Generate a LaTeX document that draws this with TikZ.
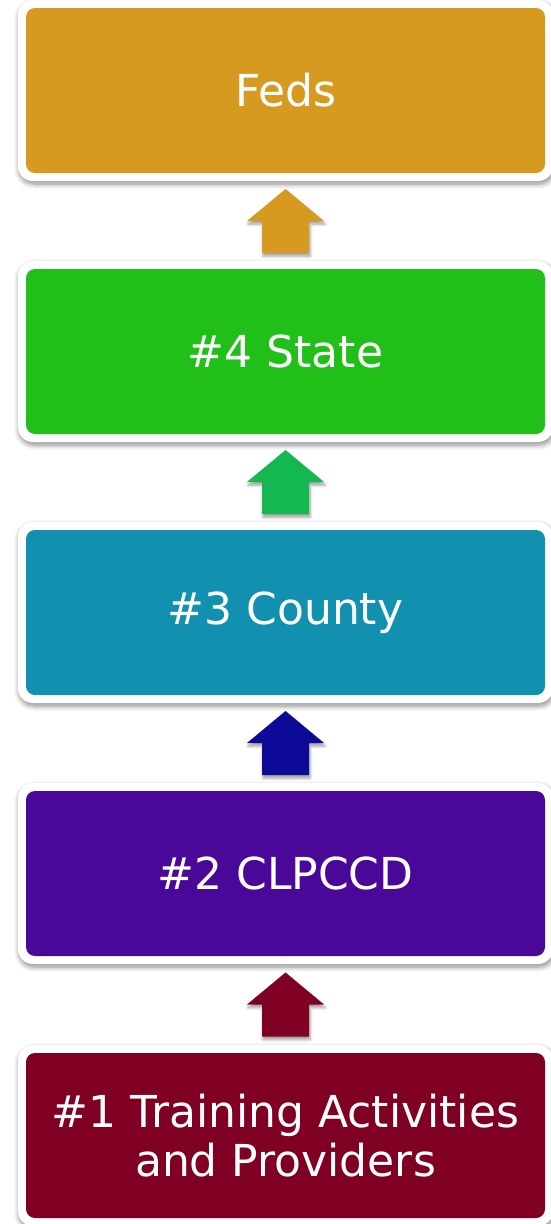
\documentclass[tikz,border=0pt]{standalone}
\usepackage{fontspec}
\setmainfont{DejaVu Sans}
\usetikzlibrary{shadows.blur,calc}
\definecolor{cgold}{RGB}{215,154,32}
\definecolor{cgreen}{RGB}{32,192,24}
\definecolor{cgreenarr}{RGB}{19,184,80}
\definecolor{cteal}{RGB}{17,144,176}
\definecolor{cbluearr}{RGB}{14,10,152}
\definecolor{cpurple}{RGB}{74,8,152}
\definecolor{cmaroon}{RGB}{127,0,34}
\tikzset{
  frame/.style={rectangle, fill=white, rounded corners=15pt,
    minimum width=535pt, minimum height=181pt, inner sep=0pt,
    blur shadow={shadow xshift=1pt, shadow yshift=-3pt, shadow blur radius=5pt, shadow blur steps=8, shadow opacity=45}},
  levelbox/.style={rectangle, rounded corners=9pt,
    minimum width=519pt, minimum height=165pt, inner sep=0pt, text=white,
    align=center, font=\fontsize{44}{49}\selectfont},
  uparrow/.style={blur shadow={shadow xshift=1pt, shadow yshift=-3pt, shadow blur radius=3pt, shadow blur steps=5, shadow opacity=40}}
}
\begin{document}
\begin{tikzpicture}[x=1pt,y=-1pt]
\useasboundingbox (0,0) rectangle (550,1224);
\node[frame] (fedsF)   at (285.5,90.5)  {};
\node[frame] (stateF)  at (285.5,351.5) {};
\node[frame] (countyF) at (285.5,612.5) {};
\node[frame] (clpF)    at (285.5,873.5) {};
\node[frame] (trainF)  at (285.5,1135.5) {};
\node[levelbox, fill=cgold]   (feds)   at (fedsF)   {Feds};
\node[levelbox, fill=cgreen]  (state)  at (stateF)  {\#4 State};
\node[levelbox, fill=cteal]   (county) at (countyF) {\#3 County};
\node[levelbox, fill=cpurple] (clp)    at (clpF)    {\#2 CLPCCD};
\node[levelbox, fill=cmaroon] (train)  at (trainF)  {\#1 Training Activities\\and Providers};
\coordinate (m1) at ($(state.north)!0.5!(feds.south)$);
\coordinate (m2) at ($(county.north)!0.5!(state.south)$);
\coordinate (m3) at ($(clp.north)!0.5!(county.south)$);
\coordinate (m4) at ($(train.north)!0.5!(clp.south)$);
\foreach \m/\c in {m1/cgold, m2/cgreenarr, m3/cbluearr, m4/cmaroon}{
  \fill[\c, uparrow] (\m) ++(-23.5,32) -- ++(0,-32) -- ++(-15,0) -- ++(38.5,-32)
     -- ++(38.5,32) -- ++(-15,0) -- ++(0,32) -- cycle;
}
\end{tikzpicture}
\end{document}
